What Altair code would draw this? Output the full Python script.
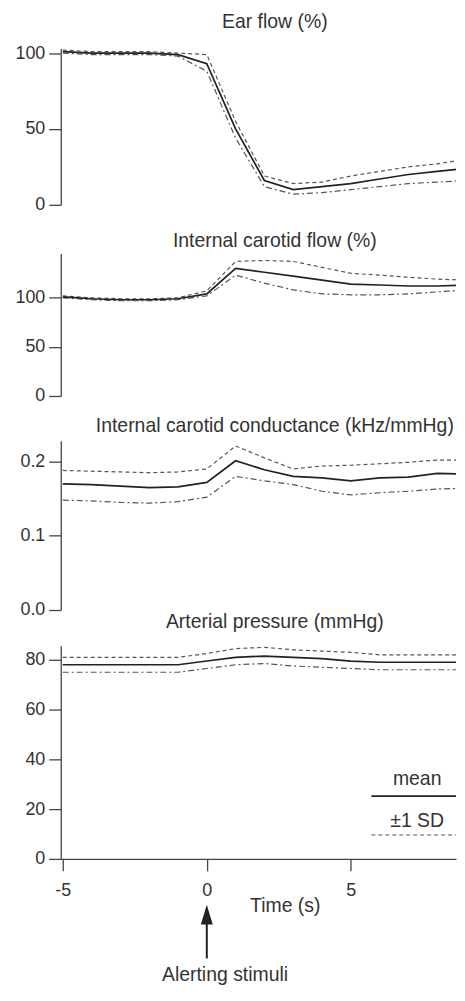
import altair as alt
import pandas as pd

# ---------------- data ----------------
time_s = [-5, -4, -3, -2, -1, 0, 1, 2, 3, 4, 5, 6, 7, 8, 9]

ear_mean  = [101, 100, 100, 100, 99, 93, 50, 16, 10, 12, 14, 17, 20, 22, 24]
ear_upper = [102, 101, 101, 101, 100, 99, 55, 19, 14, 15, 19, 22, 25, 27, 30]
ear_lower = [100, 99, 99, 99, 98, 88, 44, 12, 7, 8, 10, 12, 14, 15, 16]

ica_mean  = [101, 99, 98, 98, 99, 104, 130, 126, 122, 118, 114, 113, 112, 112, 113]
ica_upper = [102, 100, 99, 99, 100, 107, 137, 138, 137, 131, 125, 123, 121, 119, 118]
ica_lower = [100, 98, 97, 97, 98, 102, 123, 115, 108, 104, 103, 103, 104, 106, 108]

icc_mean  = [0.170, 0.169, 0.167, 0.165, 0.166, 0.172, 0.201, 0.189, 0.180, 0.178, 0.174, 0.178, 0.179, 0.184, 0.183]
icc_upper = [0.188, 0.187, 0.186, 0.185, 0.186, 0.190, 0.221, 0.205, 0.190, 0.194, 0.195, 0.197, 0.199, 0.202, 0.202]
icc_lower = [0.148, 0.147, 0.145, 0.144, 0.146, 0.152, 0.180, 0.174, 0.169, 0.160, 0.155, 0.158, 0.160, 0.163, 0.164]

ap_mean  = [78, 78, 78, 78, 78, 79.5, 81, 81.5, 81, 80.5, 79.5, 79, 79, 79, 79]
ap_upper = [81, 81, 81, 81, 81, 82.5, 84.5, 85, 84, 83.5, 83, 82, 82, 82, 82]
ap_lower = [75, 75, 75, 75, 75, 76.5, 78, 78.5, 77.5, 77, 76.5, 76, 76, 76, 76]

titles = ["Ear flow (%)", "Internal carotid flow (%)",
          "Internal carotid conductance (kHz/mmHg)", "Arterial pressure (mmHg)"]
legend_labels = ["mean", "\u00b11 SD"]
stimulus_time = [0]
stimulus_label = ["Alerting stimuli"]
x_title = "Time (s)"
x_ticks = [-5, 0, 5]

# ---------------- style ----------------
FONT = "Liberation Sans"
TXT = "#333333"
W = 397
X0 = -5.07
X1 = X0 + W / 28.93
MEAN_STYLE = dict(color="#222222", strokeWidth=1.7)
UP_STYLE = dict(color="#555555", strokeWidth=1.2, strokeDash=[4, 3])
LO_STYLE = dict(color="#555555", strokeWidth=1.2, strokeDash=[6, 3, 2, 3])
TXT_STYLE = dict(font=FONT, fontSize=19.5, color=TXT, align="center", baseline="alphabetic")


def x_enc(show_axis):
    if show_axis:
        ax = alt.Axis(values=x_ticks, labelExpr="toString(datum.value)",
                      title=x_title, titleX=225, titleY=53, titleAlign="center",
                      titleBaseline="alphabetic", titleFont=FONT, titleFontSize=19.5,
                      titleFontWeight="normal", titleColor=TXT,
                      tickSize=12, labelPadding=11)
    else:
        ax = None
    return alt.X("t:Q", scale=alt.Scale(domain=[X0, X1], nice=False, zero=False), axis=ax)


def panel(title, mean, upper, lower, ymax, ticks, fmt, title_gap, show_x=False):
    df = pd.DataFrame({"t": time_s, "mean": mean, "upper": upper, "lower": lower})
    base = alt.Chart(df)
    ysc = alt.Scale(domain=[0, ymax], nice=False, zero=True)
    yax = alt.Axis(values=ticks, format=fmt, title=None)
    x = x_enc(show_x)
    ttl = alt.Chart(pd.DataFrame({"title": [title]})).mark_text(**TXT_STYLE).encode(
        text="title:N", x=alt.value(215), y=alt.value(-title_gap))
    layers = [
        base.mark_line(clip=True, **LO_STYLE).encode(x=x, y=alt.Y("lower:Q", scale=ysc, axis=yax)),
        base.mark_line(clip=True, **UP_STYLE).encode(x=x, y=alt.Y("upper:Q", scale=ysc, axis=yax)),
        base.mark_line(clip=True, **MEAN_STYLE).encode(x=x, y=alt.Y("mean:Q", scale=ysc, axis=yax)),
        ttl,
    ]
    return layers, x


def spacer(h):
    return alt.Chart(pd.DataFrame({"s": [0]})).mark_point(opacity=0).encode(
        x=alt.value(0), y=alt.value(0)).properties(width=W, height=h)


l1, _ = panel(titles[0], ear_mean, ear_upper, ear_lower, 103, [0, 50, 100], "d", 21)
p1 = alt.layer(*l1).properties(width=W, height=157)

l2, _ = panel(titles[1], ica_mean, ica_upper, ica_lower, 145, [0, 50, 100], "d", 7)
p2 = alt.layer(*l2).properties(width=W, height=143)

l3, _ = panel(titles[2], icc_mean, icc_upper, icc_lower, 0.228, [0, 0.1, 0.2], ".1f", 9)
p3 = alt.layer(*l3).properties(width=W, height=170)

l4, x4 = panel(titles[3], ap_mean, ap_upper, ap_lower, 85.6, [0, 20, 40, 60, 80], "d", 18, show_x=True)

leg_mean = alt.Chart(pd.DataFrame({"label": [legend_labels[0]]})).mark_text(**TXT_STYLE).encode(
    text="label:N", x=alt.value(358), y=alt.value(140))
leg_sd = alt.Chart(pd.DataFrame({"label": [legend_labels[1]]})).mark_text(**TXT_STYLE).encode(
    text="label:N", x=alt.value(358), y=alt.value(182))
leg_line_mean = alt.Chart(pd.DataFrame({"label": [legend_labels[0]]})).mark_rule(
    color="#222222", strokeWidth=1.7).encode(x=alt.value(312), x2=alt.value(W), y=alt.value(151))
leg_line_sd = alt.Chart(pd.DataFrame({"label": [legend_labels[1]]})).mark_rule(
    color="#555555", strokeWidth=1.2, strokeDash=[4, 3]).encode(x=alt.value(312), x2=alt.value(W), y=alt.value(190))

stim_df = pd.DataFrame({"t": stimulus_time, "label": stimulus_label})
arrow_shaft = alt.Chart(stim_df).mark_rule(color="#222222", strokeWidth=2).encode(
    x=x4, y=alt.value(276), y2=alt.value(314))
arrow_head = alt.Chart(stim_df).mark_point(
    shape="M0,-1L0.6,1L-0.6,1Z", filled=True, color="#222222", opacity=1, size=400).encode(
    x=x4, y=alt.value(270))
stim_text = alt.Chart(stim_df).mark_text(**TXT_STYLE).encode(
    text="label:N", x=alt.value(165), y=alt.value(337))

p4 = alt.layer(*l4, leg_mean, leg_sd, leg_line_mean, leg_line_sd,
               arrow_shaft, arrow_head, stim_text).properties(width=W, height=214)

chart = alt.vconcat(p1, spacer(49), p2, spacer(45), p3, spacer(36), p4,
                    spacing=0, bounds="flush").properties(
    padding={"left": 6, "top": 1.5, "right": 0, "bottom": 5}
).configure_view(stroke=None).configure_axis(
    labelFont=FONT, labelFontSize=18, labelColor=TXT,
    domainColor="#444444", tickColor="#444444", domainWidth=1.3, tickWidth=1.3,
    tickSize=12, labelPadding=4, grid=False
)

chart.save("out.html", embed_options={"renderer": "svg", "actions": False})
